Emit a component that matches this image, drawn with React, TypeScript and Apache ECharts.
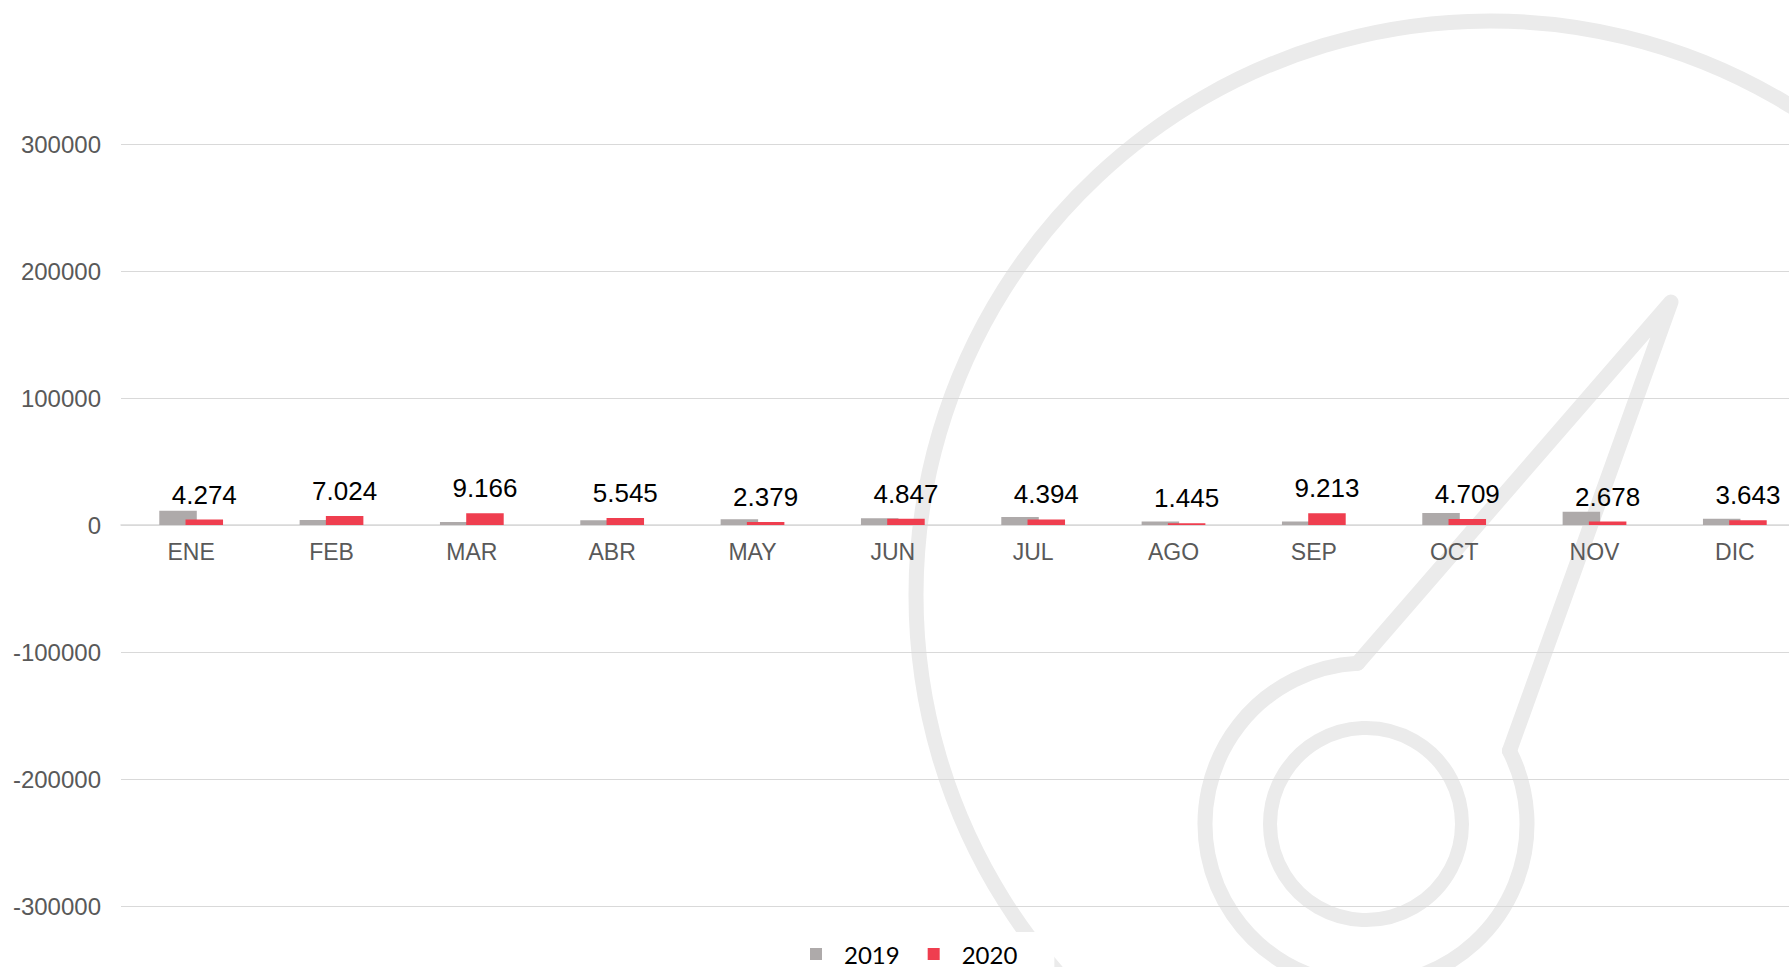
import React, { useEffect, useRef } from "react";
import * as echarts from "echarts";

const categories = ["ENE", "FEB", "MAR", "ABR", "MAY", "JUN", "JUL", "AGO", "SEP", "OCT", "NOV", "DIC"];
const values2019 = [11300, 4000, 2300, 3700, 4600, 5400, 6300, 2800, 2800, 9500, 10400, 4900];
const values2020 = [4274, 7024, 9166, 5545, 2379, 4847, 4394, 1445, 9213, 4709, 2678, 3643];
const seriesNames = ["2019", "2020"];
const yMin = -300000;
const yMax = 300000;
const yInterval = 100000;

const fmtThousands = (v: number) => String(v).replace(/\B(?=(\d{3})+(?!\d))/g, ".");

const LOGO = "#ebebeb";

export default function App() {
  const ref = useRef<HTMLDivElement>(null);
  useEffect(() => {
    if (!ref.current) return;
    const chart = echarts.init(ref.current, undefined, { renderer: "svg" });
    const hubCx = 1366, hubCy = 824, hubR = 161;
    const a1 = (-27 * Math.PI) / 180;
    const a2 = (267 * Math.PI) / 180;
    const pR = [hubCx + hubR * Math.cos(a1), hubCy + hubR * Math.sin(a1)];
    const pL = [hubCx + hubR * Math.cos(a2), hubCy + hubR * Math.sin(a2)];
    const gridTop = 144;
    const gridBottom = 61;
    const plotH = 967 - gridTop - gridBottom;
    const zeroOffset = -plotH * (0 - yMin) / (yMax - yMin);
    chart.setOption({
      animation: false,
      backgroundColor: "#ffffff",
      graphic: [
        {
          type: "circle",
          z: -10,
          silent: true,
          shape: { cx: 1490, cy: 595, r: 574 },
          style: { fill: "none", stroke: LOGO, lineWidth: 15 },
        },
        {
          type: "polyline",
          z: -10,
          silent: true,
          shape: { points: [pR, [1671, 302], pL] },
          style: { fill: "none", stroke: LOGO, lineWidth: 15, lineJoin: "round", lineCap: "round" },
        },
        {
          type: "arc",
          z: -10,
          silent: true,
          shape: { cx: hubCx, cy: hubCy, r: hubR, startAngle: a1, endAngle: a2, clockwise: true },
          style: { fill: "none", stroke: LOGO, lineWidth: 15, lineCap: "round" },
        },
        {
          type: "circle",
          z: -10,
          silent: true,
          shape: { cx: hubCx, cy: hubCy, r: 96 },
          style: { fill: "none", stroke: LOGO, lineWidth: 14 },
        },
      ],
      grid: { left: 121, right: 25, top: gridTop, bottom: gridBottom, containLabel: false },
      legend: {
        data: seriesNames,
        left: 773,
        top: 932,
        padding: [10, 37, 20, 37],
        backgroundColor: "#ffffff",
        itemWidth: 12,
        itemHeight: 12,
        itemGap: 28,
        icon: "rect",
        formatter: (n: string) => "{t|" + n + "}",
        textStyle: {
          rich: {
            t: {
              fontFamily: "Lato",
              fontSize: 24,
              color: "#000000",
              padding: [0, 0, 0, 17],
            },
          },
        },
      },
      xAxis: {
        type: "category",
        data: categories,
        position: "bottom",
        offset: zeroOffset,
        axisLine: { onZero: false, lineStyle: { color: "#d9d9d9", width: 1.5 } },
        axisTick: { show: false },
        axisLabel: {
          color: "#595959",
          fontSize: 23,
          fontFamily: "Liberation Sans",
          margin: 15,
        },
      },
      yAxis: {
        type: "value",
        min: yMin,
        max: yMax,
        interval: yInterval,
        axisLine: { show: false },
        axisTick: { show: false },
        splitLine: { lineStyle: { color: "#d9d9d9", width: 1 } },
        axisLabel: {
          color: "#595959",
          fontSize: 24,
          fontFamily: "Liberation Sans",
          margin: 20,
          formatter: (v: number) => String(v),
        },
      },
      series: [
        {
          name: seriesNames[0],
          type: "bar",
          data: values2019,
          barWidth: 37.5,
          barGap: "-30%",
          itemStyle: { color: "#aeaaaa" },
        },
        {
          name: seriesNames[1],
          type: "bar",
          data: values2020,
          barWidth: 37.5,
          barGap: "-30%",
          itemStyle: { color: "#ef3e4f" },
          label: {
            show: true,
            position: "top",
            distance: 12,
            color: "#000000",
            fontSize: 26,
            fontFamily: "Liberation Sans",
            formatter: (p: any) => fmtThousands(p.value),
          },
        },
      ],
    });
    return () => chart.dispose();
  }, []);
  return (
    <div style={{ position: "fixed", left: 0, top: 0, width: 1789, height: 967, overflow: "hidden", background: "#fff" }}>
      <div ref={ref} style={{ width: 1830, height: 967 }} />
    </div>
  );
}
